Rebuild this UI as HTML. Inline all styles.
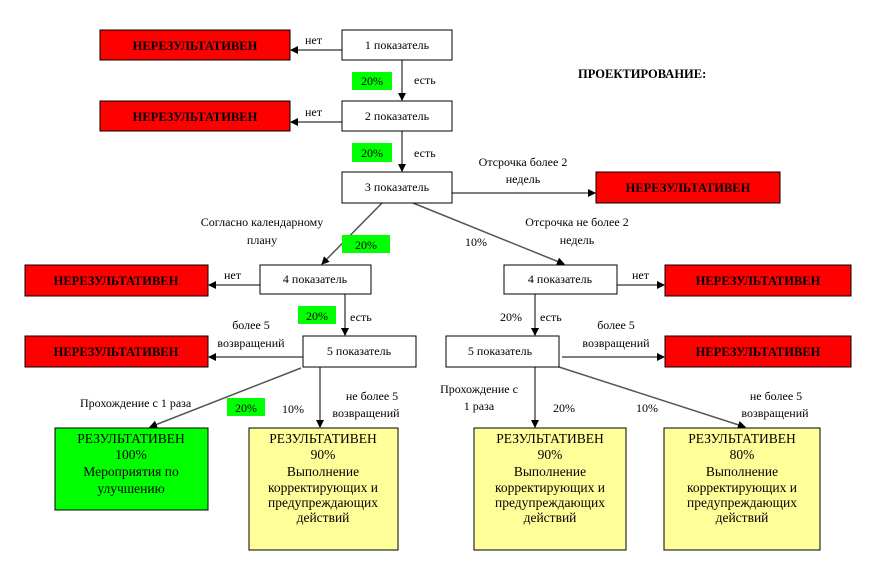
<!DOCTYPE html>
<html><head><meta charset="utf-8"><style>
html,body{margin:0;padding:0;background:#fff}
svg{display:block}
text{font-family:"Liberation Serif","DejaVu Serif",serif;font-size:12px;fill:#000}
.b{font-weight:bold;font-size:12.5px}
.r{font-size:13.5px}
</style></head><body>
<svg width="872" height="582" viewBox="0 0 872 582" xmlns="http://www.w3.org/2000/svg">
<defs><marker id="a" markerWidth="8" markerHeight="8" refX="7" refY="4" orient="auto" markerUnits="userSpaceOnUse"><path d="M0,0 L8,4 L0,8 z" fill="#000"/></marker></defs>
<g stroke="#555" stroke-width="1.5" fill="none" marker-end="url(#a)">
<line x1="342" y1="50" x2="291" y2="50"/>
<line x1="402" y1="60" x2="402" y2="100"/>
<line x1="342" y1="122" x2="291" y2="122"/>
<line x1="402" y1="131" x2="402" y2="171"/>
<line x1="452" y1="193" x2="595" y2="193"/>
<line x1="382" y1="203" x2="322" y2="264"/>
<line x1="413" y1="203" x2="564" y2="264"/>
<line x1="260" y1="285" x2="209" y2="285"/>
<line x1="345" y1="294" x2="345" y2="335"/>
<line x1="303" y1="357" x2="209" y2="357"/>
<line x1="301" y1="368" x2="150" y2="427"/>
<line x1="320" y1="367" x2="320" y2="427"/>
<line x1="617" y1="285" x2="664" y2="285"/>
<line x1="535" y1="294" x2="535" y2="335"/>
<line x1="562" y1="357" x2="664" y2="357"/>
<line x1="535" y1="367" x2="535" y2="427"/>
<line x1="559" y1="367" x2="745" y2="427"/>
</g>
<g stroke="#000" stroke-width="1">
<rect x="100" y="30" width="190" height="30" fill="#f00"/>
<rect x="100" y="101" width="190" height="30" fill="#f00"/>
<rect x="596" y="172" width="184" height="31" fill="#f00"/>
<rect x="25" y="265" width="183" height="31" fill="#f00"/>
<rect x="25" y="336" width="183" height="31" fill="#f00"/>
<rect x="665" y="265" width="186" height="31" fill="#f00"/>
<rect x="665" y="336" width="186" height="31" fill="#f00"/>
<rect x="342" y="30" width="110" height="30" fill="#fff"/>
<rect x="342" y="101" width="110" height="30" fill="#fff"/>
<rect x="342" y="172" width="110" height="31" fill="#fff"/>
<rect x="260" y="265" width="111" height="29" fill="#fff"/>
<rect x="303" y="336" width="113" height="31" fill="#fff"/>
<rect x="504" y="265" width="113" height="29" fill="#fff"/>
<rect x="446" y="336" width="113" height="31" fill="#fff"/>
<rect x="55" y="428" width="153" height="82" fill="#0f0"/>
<rect x="249" y="428" width="149" height="122" fill="#ffff99"/>
<rect x="474" y="428" width="152" height="122" fill="#ffff99"/>
<rect x="664" y="428" width="156" height="122" fill="#ffff99"/>
</g>
<g fill="#0f0">
<rect x="352" y="72" width="40" height="18"/>
<rect x="352" y="143" width="40" height="19"/>
<rect x="342" y="235" width="48" height="18"/>
<rect x="298" y="306" width="38" height="18"/>
<rect x="227" y="398" width="38" height="18"/>
</g>
<g text-anchor="middle">
<text class="b" x="195" y="50">НЕРЕЗУЛЬТАТИВЕН</text>
<text class="b" x="195" y="121">НЕРЕЗУЛЬТАТИВЕН</text>
<text class="b" x="688" y="192">НЕРЕЗУЛЬТАТИВЕН</text>
<text class="b" x="116" y="285">НЕРЕЗУЛЬТАТИВЕН</text>
<text class="b" x="116" y="356">НЕРЕЗУЛЬТАТИВЕН</text>
<text class="b" x="758" y="285">НЕРЕЗУЛЬТАТИВЕН</text>
<text class="b" x="758" y="356">НЕРЕЗУЛЬТАТИВЕН</text>
<text x="397" y="49">1 показатель</text>
<text x="397" y="120">2 показатель</text>
<text x="397" y="191">3 показатель</text>
<text x="315" y="283">4 показатель</text>
<text x="359" y="355">5 показатель</text>
<text x="560" y="283">4 показатель</text>
<text x="500" y="355">5 показатель</text>
<text x="372" y="85">20%</text>
<text x="372" y="157">20%</text>
<text x="366" y="249">20%</text>
<text x="317" y="320">20%</text>
<text x="246" y="412">20%</text>
<text class="r" x="131" y="443">РЕЗУЛЬТАТИВЕН</text>
<text class="r" x="131" y="459">100%</text>
<text class="r" x="131" y="476">Мероприятия по</text>
<text class="r" x="131" y="493">улучшению</text>
<text class="r" x="323" y="443">РЕЗУЛЬТАТИВЕН</text>
<text class="r" x="323" y="459">90%</text>
<text class="r" x="323" y="476">Выполнение</text>
<text class="r" x="323" y="492">корректирующих и</text>
<text class="r" x="323" y="507">предупреждающих</text>
<text class="r" x="323" y="522">действий</text>
<text class="r" x="550" y="443">РЕЗУЛЬТАТИВЕН</text>
<text class="r" x="550" y="459">90%</text>
<text class="r" x="550" y="476">Выполнение</text>
<text class="r" x="550" y="492">корректирующих и</text>
<text class="r" x="550" y="507">предупреждающих</text>
<text class="r" x="550" y="522">действий</text>
<text class="r" x="742" y="443">РЕЗУЛЬТАТИВЕН</text>
<text class="r" x="742" y="459">80%</text>
<text class="r" x="742" y="476">Выполнение</text>
<text class="r" x="742" y="492">корректирующих и</text>
<text class="r" x="742" y="507">предупреждающих</text>
<text class="r" x="742" y="522">действий</text>
<text x="523" y="166">Отсрочка более 2</text>
<text x="523" y="183">недель</text>
<text x="262" y="226">Согласно календарному</text>
<text x="262" y="244">плану</text>
<text x="577" y="226">Отсрочка не более 2</text>
<text x="577" y="244">недель</text>
<text x="251" y="329">более 5</text>
<text x="251" y="347">возвращений</text>
<text x="616" y="329">более 5</text>
<text x="616" y="347">возвращений</text>
<text x="372" y="400">не более 5</text>
<text x="366" y="417">возвращений</text>
<text x="776" y="400">не более 5</text>
<text x="775" y="417">возвращений</text>
<text x="479" y="393">Прохождение с</text>
<text x="479" y="410">1 раза</text>
</g>
<text class="b" x="578" y="78">ПРОЕКТИРОВАНИЕ:</text>
<text x="305" y="44">нет</text>
<text x="305" y="116">нет</text>
<text x="224" y="279">нет</text>
<text x="632" y="279">нет</text>
<text x="414" y="84">есть</text>
<text x="414" y="157">есть</text>
<text x="350" y="321">есть</text>
<text x="540" y="321">есть</text>
<text x="465" y="246">10%</text>
<text x="500" y="321">20%</text>
<text x="282" y="413">10%</text>
<text x="553" y="412">20%</text>
<text x="636" y="412">10%</text>
<text x="80" y="407">Прохождение с 1 раза</text>
</svg>
</body></html>
